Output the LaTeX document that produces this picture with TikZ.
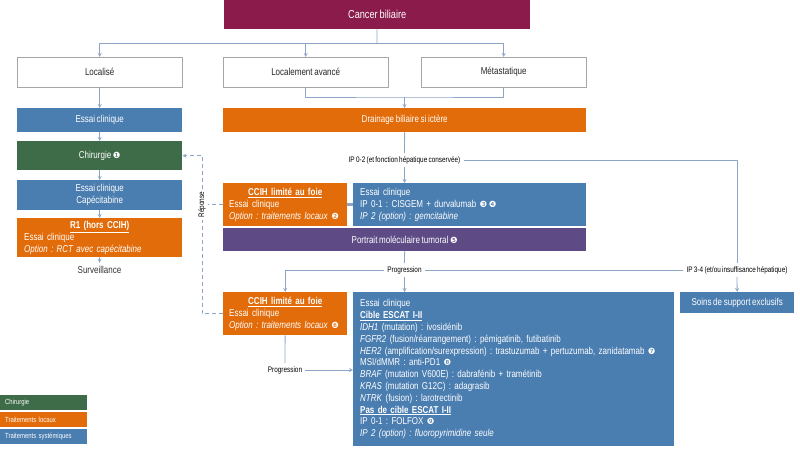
\documentclass[tikz,border=0pt]{standalone}
\usepackage{fontspec}
\setmainfont{Liberation Sans}[FakeStretch=0.8,WordSpace=0.75]
\newfontfamily\dejavu{DejaVu Sans}
\frenchspacing
\definecolor{bordeaux}{HTML}{8A1B4B}
\definecolor{orangeL}{HTML}{E36C0A}
\definecolor{bleuS}{HTML}{4A7DB0}
\definecolor{vertC}{HTML}{3E6B48}
\definecolor{violetP}{HTML}{5E4A85}
\definecolor{fleche}{HTML}{8CA5C6}
\definecolor{bordgris}{HTML}{A6A6A6}
\newcommand\cnum[1]{{\dejavu\fontsize{8.5}{9}\selectfont #1}}
\begin{document}
\begin{tikzpicture}[x=1pt,y=-1pt,>=stealth,line join=round,
	box/.style={rectangle,anchor=north west,inner sep=0pt,text=white,font=\fontsize{10}{11.8}\selectfont,align=center},
	whitebox/.style={box,draw=bordgris,fill=white,text=black!85},
	txtbox/.style={box,align=left,inner xsep=7pt,inner ysep=3pt},
	ccihbox/.style={txtbox,fill=orangeL,inner xsep=6pt,text width=112pt,minimum height=43pt},
	lien/.style={draw=fleche,line width=0.8pt},
	fl/.style={lien,->},
	pointille/.style={lien,dash pattern=on 4pt off 3pt},
	etiq/.style={fill=white,inner sep=3pt,font=\fontsize{8}{9}\selectfont}]
	\useasboundingbox (0,0) rectangle (800,448);
	% classification
	\node[box,fill=bordeaux,minimum width=306pt,minimum height=29pt,font=\fontsize{11.5}{13}\selectfont] (cancer) at (224,0) {Cancer biliaire};
	\node[whitebox,minimum width=165pt,minimum height=30pt] (loc) at (17,57) {Localisé};
	\node[whitebox,minimum width=165pt,minimum height=30pt] (locav) at (223,57) {Localement avancé};
	\node[whitebox,minimum width=165pt,minimum height=30pt] (meta) at (421,57) {Métastatique};
	% colonne de gauche
	\node[box,fill=bleuS,minimum width=165pt,minimum height=24pt] (essai1) at (17,108) {Essai clinique};
	\node[box,fill=vertC,minimum width=165pt,minimum height=29pt] (chir) at (17,141) {Chirurgie \cnum{❶}};
	\node[box,fill=bleuS,minimum width=165pt,minimum height=30pt] (essai2) at (17,180) {Essai clinique\\Capécitabine};
	\node[txtbox,fill=orangeL,text width=151pt,minimum height=38pt] (r1) at (17,218) {\hfill\underline{\textbf{R1 (hors CCIH)}}\hfill\null\\Essai clinique\\\textit{Option : RCT avec capécitabine}};
	\node[font=\fontsize{10}{11.8}\selectfont,text=black!80] (surv) at (99.5,270) {Surveillance};
	% centre
	\node[box,fill=orangeL,minimum width=363pt,minimum height=24pt] (drain) at (223,108) {Drainage biliaire si ictère};
	\node[etiq] (ip02) at (404.5,160) {IP 0-2 (et fonction hépatique conservée)};
	\node[ccihbox] (ccih1) at (223,183) {\hfill\underline{\textbf{CCIH limité au foie}}\hfill\null\\Essai clinique\\\textit{Option : traitements locaux} \cnum{❷}};
	\node[txtbox,fill=bleuS,text width=219pt,minimum height=43pt] (cis) at (353,183) {Essai clinique\\IP 0-1 : CISGEM + durvalumab \cnum{❸}\,\cnum{❹}\\\textit{IP 2 (option) : gemcitabine}};
	\node[box,fill=violetP,minimum width=363pt,minimum height=23pt] (portrait) at (223,228) {Portrait moléculaire tumoral \cnum{❺}};
	\node[etiq] (prog1) at (404.5,270) {Progression};
	\node[etiq] (ip34) at (737,270) {IP 3-4 (et/ou insuffisance hépatique)};
	\node[box,fill=bleuS,minimum width=114pt,minimum height=21pt] (soins) at (680,292) {Soins de support exclusifs};
	\node[ccihbox] (ccih2) at (223,292) {\hfill\underline{\textbf{CCIH limité au foie}}\hfill\null\\Essai clinique\\\textit{Option : traitements locaux} \cnum{❻}};
	\node[txtbox,fill=bleuS,text width=307pt,minimum height=154pt] (escat) at (353,292) {Essai clinique\\
		\underline{\textbf{Cible ESCAT I-II}}\\
		\textit{IDH1} (mutation) : ivosidénib\\
		\textit{FGFR2} (fusion/réarrangement) : pémigatinib, futibatinib\\
		\textit{HER2} (amplification/surexpression) : trastuzumab + pertuzumab, zanidatamab \cnum{❼}\\
		MSI/dMMR : anti-PD1 \cnum{❽}\\
		\textit{BRAF} (mutation V600E) : dabrafénib + tramétinib\\
		\textit{KRAS} (mutation G12C) : adagrasib\\
		\textit{NTRK} (fusion) : larotrectinib\\
		\underline{\textbf{Pas de cible ESCAT I-II}}\\
		IP 0-1 : FOLFOX \cnum{❾}\\
		\textit{IP 2 (option) : fluoropyrimidine seule}};
	\node[etiq] (prog2) at (285,370) {Progression};
	\node[etiq,rotate=90,inner sep=2pt] (reponse) at (202,204.5) {Réponse};
	% legende
	\foreach \coul/\nom/\y in {vertC/Chirurgie/395,orangeL/Traitements locaux/412,bleuS/Traitements systémiques/429}
		\node[box,fill=\coul,text width=77pt,inner xsep=5pt,minimum height=15pt,align=left,font=\fontsize{7.4}{8}\selectfont] (leg-\coul) at (0,\y) {\nom};
	% liens
	\coordinate (split) at (377,43);
	\draw[lien] (cancer) -- (split);
	\foreach \n in {loc,locav,meta} \draw[fl] (split) -| (\n);
	\coordinate (jonction) at (404.5,97);
	\draw[lien] (locav) |- (jonction) -| (meta);
	\draw[fl] (jonction) -- (drain);
	\foreach \a/\b in {loc/essai1,essai1/chir,chir/essai2,essai2/r1,r1/surv} \draw[fl] (\a) -- (\b);
	\draw[lien] (drain) -- (ip02);
	\draw[fl] (ip02) -- (ip02 |- cis.north);
	\draw[lien] (ip02) -| (ip34);
	\draw[fl] (ip34) -- (soins);
	\draw[lien,line width=3pt] (ccih1) -- (cis);
	\draw[lien] (portrait) -- (prog1);
	\draw[fl] (prog1) -- (prog1 |- escat.north);
	\draw[fl] (prog1) -| (ccih2);
	\draw[lien] (prog1) -- (ip34);
	\draw[lien] (ccih2) -- (prog2);
	\draw[fl] (prog2) -- (prog2 -| escat.west);
	\draw[pointille] (ccih1) -- (reponse);
	\draw[pointille] (ccih2) -| (reponse);
	\draw[pointille,->] (reponse) |- (chir);
\end{tikzpicture}
\end{document}
